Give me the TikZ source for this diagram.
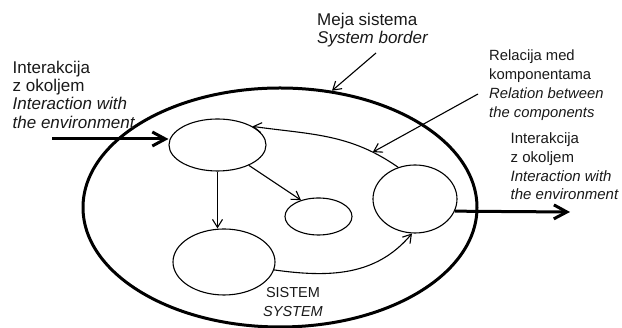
\documentclass[tikz,border=0pt]{standalone}
\usepackage{fontspec}
\setmainfont{Liberation Sans}
\usetikzlibrary{shapes.geometric,arrows.meta}
\begin{document}
\begin{tikzpicture}[x=1pt,y=1pt,
  comp/.style={ellipse,draw,line width=1.1pt,inner sep=0pt},
  rel/.style={line width=1.1pt,-{Straight Barb[length=8pt,width=10pt]}},
  io/.style={line width=3pt,-{Straight Barb[length=13pt,width=14pt]}},
  lbl/.style={align=left,inner sep=0pt,anchor=base west,text=black!90}]
\useasboundingbox (0,0) rectangle (622,328);
% system border
\node[ellipse,draw,line width=3pt,minimum width=394pt,minimum height=239pt,inner sep=0pt] (E) at (280,120.5) {};
% components
\node[comp,minimum width=97pt,minimum height=52pt] (A) at (217.5,183) {};
\node[comp,minimum width=102pt,minimum height=66pt] (D) at (224,66) {};
\node[comp,minimum width=67pt,minimum height=37pt] (C) at (318.5,111.5) {};
\node[comp,minimum width=84pt,minimum height=68pt] (B) at (415,129) {};
% relations
\draw[rel] (A.south) -- (A.south |- D.north);
\draw[rel] (A.-33) -- (C.137);
\draw[rel] (D.-9) to[out=-8,in=-130] (B.-95);
\draw[rel] (B.118) to[out=145,in=-8] coordinate[pos=0.18] (rtip) (A.28);
% interactions
\coordinate (inp) at (52,189);
\coordinate (outend) at (570,116);
\draw[io] (inp) -- (A.west |- inp);
\draw[io] (B.-17) -- (outend);
% labels (base anchor = baseline of last line)
\node[lbl,font=\fontsize{17}{18.3}\selectfont] (Lin) at (12.5,199.7)
  {Interakcija\\z okoljem\\\itshape Interaction with\\\itshape the environment};
\node[lbl,font=\fontsize{17}{17.3}\selectfont] (Lb) at (317,284.7)
  {Meja sistema\\\itshape System border};
\node[lbl,font=\fontsize{14.8}{18.9}\selectfont] (Lr) at (489,210.7)
  {Relacija med\\komponentama\\\itshape Relation between\\\itshape the components};
\node[lbl,font=\fontsize{15}{18.7}\selectfont] (Lout) at (510.5,128)
  {Interakcija\\z okoljem\\\itshape Interaction with\\\itshape the environment};
\node[lbl,align=center,anchor=base,font=\fontsize{14.5}{19}\selectfont] (Ls) at (293,11)
  {SISTEM\\\itshape SYSTEM};
% pointers
\coordinate (bstart) at (376,275);
\coordinate (rstart) at (478,234);
\draw[rel] (bstart) -- (E.66);
\draw[rel] (rstart) -- (rtip);
\end{tikzpicture}
\end{document}
